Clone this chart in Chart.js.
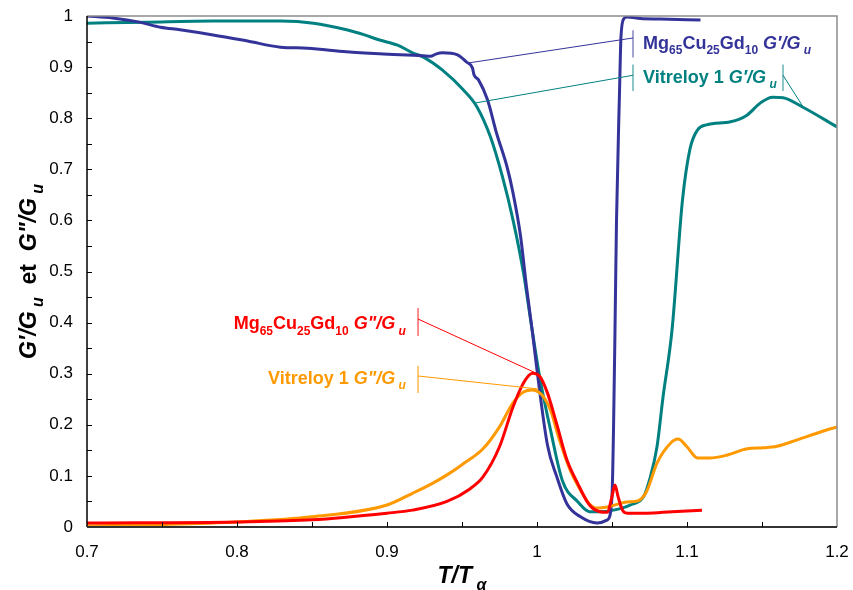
<!DOCTYPE html>
<html>
<head>
<meta charset="utf-8">
<script src="https://cdn.jsdelivr.net/npm/chart.js@4"></script>
<style>
  html, body { margin: 0; background: #fff; }
  #wrap { width: 853px; height: 590px; }
</style>
</head>
<body>
<div id="wrap"><canvas id="chart"></canvas></div>
<script>
// T/Talpha values and normalised moduli
const mgGpT = [0.700,0.717,0.735,0.749,0.762,0.784,0.807,0.829,0.847,0.873,0.895,0.924,0.929,0.933,0.937,0.947,0.953,0.957,0.958,0.961,0.967,0.973,0.980,0.984,0.989,0.993,0.997,1.000,1.007,1.013,1.020,1.029,1.040,1.047,1.050,1.051,1.052,1.053,1.055,1.056,1.058,1.060,1.069,1.082,1.109];
const mgGp = [1.000,0.996,0.988,0.978,0.973,0.963,0.951,0.939,0.937,0.930,0.926,0.922,0.921,0.926,0.928,0.924,0.910,0.898,0.885,0.875,0.836,0.771,0.705,0.654,0.570,0.470,0.380,0.307,0.160,0.100,0.045,0.020,0.008,0.014,0.060,0.190,0.386,0.600,0.850,0.960,0.995,0.998,0.995,0.994,0.992];

const vitGpT = [0.700,0.740,0.784,0.829,0.851,0.873,0.885,0.895,0.907,0.917,0.924,0.937,0.951,0.960,0.969,0.977,0.984,0.991,0.996,1.002,1.009,1.017,1.027,1.035,1.042,1.051,1.062,1.071,1.075,1.080,1.084,1.090,1.097,1.102,1.107,1.113,1.129,1.140,1.149,1.157,1.164,1.177,1.200];
const vitGp = [0.986,0.988,0.990,0.990,0.986,0.973,0.963,0.953,0.943,0.928,0.920,0.894,0.855,0.822,0.763,0.685,0.601,0.497,0.400,0.290,0.190,0.090,0.050,0.030,0.030,0.033,0.043,0.059,0.092,0.157,0.254,0.385,0.640,0.740,0.777,0.787,0.793,0.806,0.830,0.841,0.840,0.822,0.783];

const mgGppT = [0.700,0.800,0.850,0.900,0.917,0.940,0.955,0.964,0.975,0.984,0.991,0.997,1.002,1.007,1.013,1.020,1.027,1.035,1.042,1.047,1.050,1.052,1.054,1.057,1.060,1.073,1.090,1.110];
const mgGpp = [0.008,0.010,0.014,0.027,0.033,0.050,0.074,0.098,0.157,0.235,0.282,0.301,0.294,0.262,0.203,0.131,0.086,0.043,0.030,0.029,0.060,0.082,0.060,0.033,0.027,0.027,0.030,0.033];

const vitGppT = [0.700,0.750,0.800,0.850,0.900,0.917,0.930,0.940,0.950,0.964,0.975,0.984,0.991,0.997,1.001,1.005,1.009,1.015,1.022,1.029,1.035,1.040,1.047,1.060,1.067,1.073,1.080,1.089,1.094,1.100,1.107,1.115,1.127,1.140,1.151,1.160,1.173,1.189,1.200];
const vitGpp = [0.002,0.005,0.010,0.020,0.043,0.066,0.085,0.102,0.122,0.153,0.196,0.243,0.264,0.268,0.264,0.252,0.229,0.170,0.112,0.072,0.045,0.037,0.039,0.049,0.051,0.069,0.125,0.164,0.172,0.157,0.135,0.135,0.141,0.153,0.155,0.158,0.170,0.186,0.196];

const xTickLabels = ['0.7', '0.8', '0.9', '1', '1.1', '1.2'];
const yTickLabels = ['0', '0.1', '0.2', '0.3', '0.4', '0.5', '0.6', '0.7', '0.8', '0.9', '1'];

const BLUE = '#333399', TEAL = '#008080', RED = '#ff0000', ORANGE = '#ff9900';
const FONT = '"Liberation Sans", Arial, sans-serif';

// rich text pieces: [text, flags]  flags: i = italic, s = subscript
const mgPrime = [['Mg',''],['65','s'],['Cu',''],['25','s'],['Gd',''],['10','s'],[' G\u2032/G','i'],[' u','is']];
const vitPrime = [['Vitreloy 1',''],[' G\u2032/G','i'],[' u','is']];
const mgSecond = [['Mg',''],['65','s'],['Cu',''],['25','s'],['Gd',''],['10','s'],[' G"/G','i'],[' u','is']];
const vitSecond = [['Vitreloy 1',''],[' G"/G','i'],[' u','is']];

// callouts in data units: text anchor, bar (x, y1, y2), leader (x1, y1, x2, y2)
const notes = [
  { segs: mgPrime, color: BLUE, bar: 'rgba(51,51,153,0.6)', x: 1.0707, y: 0.947, align: 'left',
    bars: [[1.064, 0.972, 0.919]], leaders: [[1.064, 0.957, 0.954, 0.908]] },
  { segs: vitPrime, color: TEAL, bar: 'rgba(0,128,128,0.6)', x: 1.0707, y: 0.881, align: 'left',
    bars: [[1.064, 0.905, 0.853], [1.164, 0.905, 0.853]],
    leaders: [[1.064, 0.884, 0.9593, 0.830], [1.164, 0.884, 1.177, 0.824]] },
  { segs: mgSecond, color: RED, bar: 'rgba(255,0,0,0.6)', x: 0.9126, y: 0.399, align: 'right',
    bars: [[0.9207, 0.4286, 0.3738]], leaders: [[0.9207, 0.407, 0.998, 0.303]] },
  { segs: vitSecond, color: ORANGE, bar: 'rgba(255,153,0,0.7)', x: 0.9126, y: 0.2916, align: 'right',
    bars: [[0.9207, 0.315, 0.262]], leaders: [[0.9207, 0.2955, 1.001, 0.270]] },
];

function pts(xs, ys) { return xs.map((x, i) => ({ x: x, y: ys[i] })); }

function segFont(flags, size) {
  const sz = flags.includes('s') ? Math.round(size * 0.68) : size;
  return (flags.includes('i') ? 'italic ' : '') + 'bold ' + sz + 'px ' + FONT;
}

function richWidth(ctx, segs, size) {
  let w = 0;
  segs.forEach(s => { ctx.font = segFont(s[1], size); w += ctx.measureText(s[0]).width; });
  return w;
}

// draws text on an alphabetic baseline
function drawRich(ctx, segs, x, y, size, align) {
  const w = richWidth(ctx, segs, size);
  let cx = align === 'right' ? x - w : align === 'center' ? x - w / 2 : x;
  ctx.textBaseline = 'alphabetic';
  ctx.textAlign = 'left';
  segs.forEach(s => {
    ctx.font = segFont(s[1], size);
    const dy = s[1].includes('s') ? size * 0.3 : 0;
    ctx.fillText(s[0], cx, y + dy);
    cx += ctx.measureText(s[0]).width;
  });
}

const decorPlugin = {
  id: 'decor',
  afterDatasetsDraw(chart) {
    const { ctx, chartArea: a, scales: { x, y } } = chart;
    ctx.save();

    // frame: grey top/right, black left/bottom
    ctx.lineWidth = 1.5;
    ctx.strokeStyle = '#8c8c8c';
    ctx.beginPath();
    ctx.moveTo(a.left, a.top); ctx.lineTo(a.right, a.top); ctx.lineTo(a.right, a.bottom);
    ctx.stroke();
    ctx.strokeStyle = '#000';
    ctx.beginPath();
    ctx.moveTo(a.left, a.top); ctx.lineTo(a.left, a.bottom);
    ctx.stroke();
    ctx.strokeStyle = '#333';
    ctx.lineWidth = 2;
    ctx.beginPath();
    ctx.moveTo(a.left, a.bottom); ctx.lineTo(a.right, a.bottom);
    ctx.stroke();

    // inward ticks every 0.05
    ctx.lineWidth = 1;
    ctx.strokeStyle = '#000';
    ctx.beginPath();
    for (let v = 0.05; v < 1; v += 0.05) {
      const py = Math.round(y.getPixelForValue(v)) + 0.5;
      ctx.moveTo(a.left, py); ctx.lineTo(a.left + 5, py);
    }
    for (let v = 0.75; v < 1.2; v += 0.05) {
      const px = Math.round(x.getPixelForValue(v)) + 0.5;
      ctx.moveTo(px, a.bottom); ctx.lineTo(px, a.bottom - 5);
    }
    ctx.stroke();

    // tick labels
    ctx.fillStyle = '#000';
    ctx.font = '17px ' + FONT;
    ctx.textAlign = 'right';
    ctx.textBaseline = 'middle';
    yTickLabels.forEach(t => ctx.fillText(t, a.left - 14, y.getPixelForValue(parseFloat(t))));
    ctx.textAlign = 'center';
    xTickLabels.forEach(t => ctx.fillText(t, x.getPixelForValue(parseFloat(t)), a.bottom + 25));

    // callouts
    notes.forEach(n => {
      ctx.strokeStyle = n.color;
      ctx.lineWidth = 1;
      ctx.beginPath();
      n.leaders.forEach(l => {
        ctx.moveTo(x.getPixelForValue(l[0]), y.getPixelForValue(l[1]));
        ctx.lineTo(x.getPixelForValue(l[2]), y.getPixelForValue(l[3]));
      });
      ctx.stroke();
      ctx.strokeStyle = n.bar;
      ctx.lineWidth = 1.5;
      ctx.beginPath();
      n.bars.forEach(b => {
        const px = x.getPixelForValue(b[0]);
        ctx.moveTo(px, y.getPixelForValue(b[1])); ctx.lineTo(px, y.getPixelForValue(b[2]));
      });
      ctx.stroke();
      ctx.fillStyle = n.color;
      drawRich(ctx, n.segs, x.getPixelForValue(n.x), y.getPixelForValue(n.y) + 6, 18, n.align);
    });

    // axis titles
    ctx.fillStyle = '#000';
    drawRich(ctx, [['T/T', 'i'], [' \u03b1', 'is']], 462, 583, 23, 'center');
    ctx.translate(36, (a.top + a.bottom) / 2);
    ctx.rotate(-Math.PI / 2);
    drawRich(ctx, [['G\u2032/G', 'i'], [' u', 'is'], ['  et  ', ''], ['G"/G', 'i'], [' u', 'is']], 0, 0, 23, 'center');
    ctx.restore();
  }
};

function line(data, color) {
  return {
    data: data,
    borderColor: color,
    borderWidth: 3,
    pointRadius: 0,
    fill: false,
    cubicInterpolationMode: 'monotone',
  };
}

new Chart(document.getElementById('chart'), {
  type: 'line',
  data: {
    datasets: [
      line(pts(mgGppT, mgGpp), RED),
      line(pts(vitGppT, vitGpp), ORANGE),
      line(pts(mgGpT, mgGp), BLUE),
      line(pts(vitGpT, vitGp), TEAL),
    ],
  },
  options: {
    responsive: true,
    maintainAspectRatio: false,
    animation: false,
    layout: { padding: { left: 0, right: 16, top: 16, bottom: 0 } },
    plugins: { legend: { display: false }, tooltip: { enabled: false } },
    scales: {
      x: {
        type: 'linear',
        min: 0.7,
        max: 1.2,
        afterFit: s => { s.height = 63; },
        grid: { display: false, drawTicks: false },
        border: { display: false },
        ticks: { display: false },
      },
      y: {
        min: 0,
        max: 1,
        afterFit: s => { s.width = 87; },
        grid: { display: false, drawTicks: false },
        border: { display: false },
        ticks: { display: false },
      },
    },
  },
  plugins: [decorPlugin],
});
</script>
</body>
</html>
